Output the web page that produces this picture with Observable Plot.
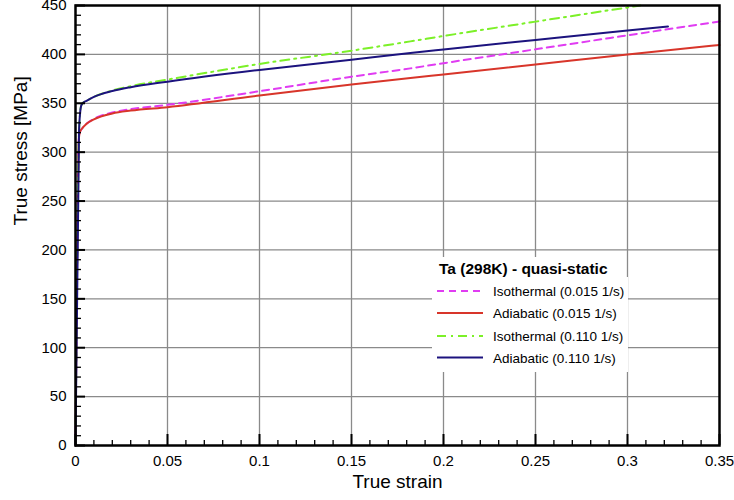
<!DOCTYPE html>
<html>
<head>
<meta charset="utf-8">
<script src="https://cdn.jsdelivr.net/npm/d3@7"></script>
<script src="https://cdn.jsdelivr.net/npm/@observablehq/plot@0.6"></script>
<style>
  html, body { margin: 0; padding: 0; background: #fff; }
  #wrap { position: relative; width: 734px; height: 500px; font-family: "Liberation Sans", Arial, sans-serif; }
  #legend { position: absolute; left: 0; top: 0; pointer-events: none; }
</style>
</head>
<body>
<div id="wrap"></div>
<script>
// ---- Data ----
const strainIso015 = [0, 0.0019, 0.0025, 0.0035, 0.006, 0.01, 0.02, 0.03, 0.05, 0.1, 0.15, 0.182, 0.2, 0.25, 0.3, 0.35];
const stressIso015 = [0, 315, 321, 324, 329, 334, 340.5, 344, 348.4, 362.3, 377.2, 385.7, 391, 405.2, 419.5, 433.7];

const strainAdi015 = [0, 0.0019, 0.0025, 0.0035, 0.006, 0.01, 0.02, 0.03, 0.05, 0.1, 0.15, 0.182, 0.2, 0.25, 0.3, 0.35];
const stressAdi015 = [0, 315, 321, 324, 329, 333.5, 339.5, 342.5, 346, 357.9, 369.1, 375.9, 379.5, 389.6, 399.8, 409.6];

const strainIso110 = [0, 0.0019, 0.0025, 0.003, 0.0038, 0.006, 0.01, 0.02, 0.03, 0.05, 0.1, 0.15, 0.182, 0.2, 0.25, 0.3, 0.307];
const stressIso110 = [0, 320, 340, 347, 350, 352.5, 356.5, 363, 367.5, 374.2, 390.2, 403.8, 413.3, 418.8, 433.5, 448, 450];

const strainAdi110 = [0, 0.0019, 0.0025, 0.003, 0.0038, 0.006, 0.01, 0.02, 0.03, 0.05, 0.1, 0.15, 0.182, 0.2, 0.25, 0.3, 0.322];
const stressAdi110 = [0, 320, 340, 347, 350, 352.5, 356.5, 362.5, 366.5, 372.1, 384.1, 394.6, 401.4, 405, 414.8, 424.5, 428.6];

const seriesNames = ["Isothermal (0.015 1/s)", "Adiabatic (0.015 1/s)", "Isothermal (0.110 1/s)", "Adiabatic (0.110 1/s)"];
const legendTitle = "Ta (298K) - quasi-static";

const xMajor = [0, 0.05, 0.1, 0.15, 0.2, 0.25, 0.3, 0.35];
const xTickLabels = ["0", "0.05", "0.1", "0.15", "0.2", "0.25", "0.3", "0.35"];
const yMajor = [0, 50, 100, 150, 200, 250, 300, 350, 400, 450];
const yTickLabels = ["0", "50", "100", "150", "200", "250", "300", "350", "400", "450"];
const xMinor = d3.range(1, 35).map(i => i / 100).filter(v => !xMajor.some(m => Math.abs(m - v) < 1e-9));
const yMinor = d3.range(10, 450, 10).filter(v => v % 50 !== 0);

const xLabel = "True strain";
const yLabel = "True stress [MPa]";

// ---- Styles ----
const seriesStyles = [
  {stroke: "#e03cf2", dash: "7,5"},
  {stroke: "#d8352a", dash: null},
  {stroke: "#7cf028", dash: "9,5,2,5"},
  {stroke: "#1c137e", dash: null}
];

const toRows = (xs, ys) => xs.map((x, i) => ({x, y: ys[i]}));
const series = [
  toRows(strainIso015, stressIso015),
  toRows(strainAdi015, stressAdi015),
  toRows(strainIso110, stressIso110),
  toRows(strainAdi110, stressAdi110)
];

const W = 734, H = 500, mL = 75, mR = 15, mT = 5, mB = 55;
const fw = W - mL - mR, fh = H - mT - mB;
const gridColor = "#8a8a8a";
const FONT = "'Liberation Sans', Arial, sans-serif";

const lineMarks = series.map((rows, i) => Plot.line(rows, {
  x: "x", y: "y",
  stroke: seriesStyles[i].stroke,
  strokeWidth: 2,
  strokeDasharray: seriesStyles[i].dash,
  curve: "monotone-x"
}));

const plot = Plot.plot({
  width: W, height: H,
  marginLeft: mL, marginRight: mR, marginTop: mT, marginBottom: mB,
  style: {fontFamily: FONT, fontSize: "15px", background: "#fff", color: "#000", overflow: "visible"},
  x: {domain: [0, 0.35], axis: null},
  y: {domain: [0, 450], axis: null},
  marks: [
    Plot.ruleX(xMajor.slice(1, -1), {x: d => d, stroke: gridColor, strokeWidth: 1.3}),
    Plot.ruleY(yMajor.slice(1, -1), {y: d => d, stroke: gridColor, strokeWidth: 1.3}),
    ...lineMarks,
    // inward ticks
    Plot.ruleX(xMinor, {x: d => d, insetTop: fh - 5, stroke: "#000", strokeWidth: 1.3}),
    Plot.ruleX(xMajor, {x: d => d, insetTop: fh - 11, stroke: "#000", strokeWidth: 2}),
    Plot.ruleY(yMinor, {y: d => d, insetRight: fw - 6, stroke: "#000", strokeWidth: 1.3}),
    Plot.ruleY(yMajor, {y: d => d, insetRight: fw - 10, stroke: "#000", strokeWidth: 2}),
    Plot.axisX({ticks: xMajor, tickSize: 0, tickPadding: 10, tickFormat: (d, i) => xTickLabels[i], label: null, fontSize: 15}),
    Plot.axisY({ticks: yMajor, tickSize: 0, tickPadding: 9, tickFormat: (d, i) => yTickLabels[i], label: null, fontSize: 15}),
    Plot.text([xLabel], {frameAnchor: "bottom", dy: 42, fontSize: 19, fill: "#000"}),
    Plot.text([yLabel], {frameAnchor: "left", dx: -55, rotate: -90, fontSize: 19, fill: "#000"}),
    Plot.frame({stroke: "#000", strokeWidth: 2.5})
  ]
});

const wrap = document.getElementById("wrap");
wrap.appendChild(plot);

// ---- Legend overlay ----
const ns = "http://www.w3.org/2000/svg";
const lg = document.createElementNS(ns, "svg");
lg.setAttribute("id", "legend");
lg.setAttribute("width", W);
lg.setAttribute("height", H);
function el(tag, attrs, text) {
  const e = document.createElementNS(ns, tag);
  for (const k in attrs) if (attrs[k] != null) e.setAttribute(k, attrs[k]);
  if (text != null) e.textContent = text;
  lg.appendChild(e);
  return e;
}
el("rect", {x: 432, y: 257, width: 189, height: 22, fill: "#fff"});
el("rect", {x: 432, y: 277, width: 196, height: 95, fill: "#fff"});
el("text", {x: 439, y: 274, "font-size": 15.5, "font-weight": "bold", "font-family": FONT, fill: "#000"}, legendTitle);
const rowY = [291, 313, 336, 357.5];
seriesNames.forEach((name, i) => {
  el("line", {x1: 437, x2: 483, y1: rowY[i], y2: rowY[i], stroke: seriesStyles[i].stroke, "stroke-width": 2, "stroke-dasharray": seriesStyles[i].dash});
  el("text", {x: 493, y: rowY[i] + 5, "font-size": 13.5, "font-family": FONT, fill: "#000"}, name);
});
wrap.appendChild(lg);
</script>
</body>
</html>
